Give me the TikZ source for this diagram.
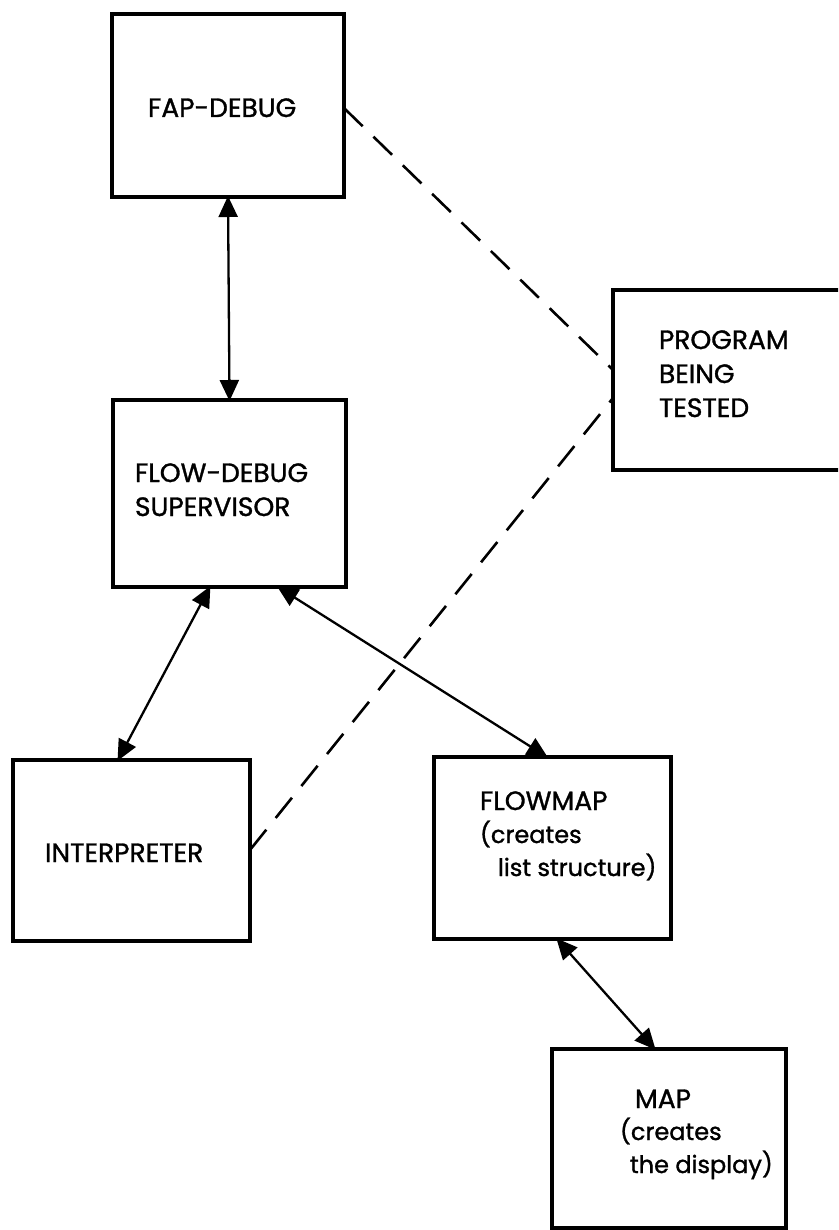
\documentclass[tikz,border=0pt]{standalone}
\usepackage{fontspec}
\setmainfont{Poppins}
\newfontfamily\lblfont{Poppins}[FakeBold=1.2]
\usetikzlibrary{arrows.meta,calc}
\tikzset{
  box/.style={draw=black, line width=3.5pt, fill=white, inner sep=0pt, outer sep=0pt},
  lbl/.style={anchor=base west, inner sep=0pt, outer sep=0pt, font=\lblfont\fontsize{26.5}{33}\selectfont},
  lbls/.style={lbl, font=\lblfont\fontsize{24}{33}\selectfont},
  dbl/.style={line width=2.3pt, {Triangle[length=21pt,width=19pt]}-{Triangle[length=21pt,width=19pt]}, shorten <=-1pt, shorten >=-1pt},
  dsh/.style={line width=2.6pt, dash pattern=on 26pt off 15pt}
}
\begin{document}
\begin{tikzpicture}[x=1pt,y=-1pt]
\useasboundingbox (0,0) rectangle (838,1230);
\fill[white] (0,0) rectangle (838,1230);
\clip (0,0) rectangle (838,1230);

% boxes: centre at ((l+r)/2,(t+b)/2)
\node[box, minimum width=232pt, minimum height=183pt] (fap)  at (228,105.5) {};
\node[box, minimum width=237pt, minimum height=180pt] (prog) at (731.5,380) {};
\node[box, minimum width=233pt, minimum height=187pt] (sup)  at (229.5,493.5) {};
\node[box, minimum width=237pt, minimum height=181pt] (intp) at (131.5,850.5) {};
\node[box, minimum width=237pt, minimum height=182pt] (fmap) at (552.5,848) {};
\node[box, minimum width=234pt, minimum height=179pt] (map)  at (669,1138.5) {};

% texts
\node[lbl] (tfap) at (148,117) {FAP-DEBUG};
\node[lbl] (tprog1) at (659,349) {PROGRAM};
\node[lbl] (tprog2) at (659,383) {BEING};
\node[lbl] (tprog3) at (659,417) {TESTED};
\node[lbl] (tsup1) at (135,482) {FLOW-DEBUG};
\node[lbl] (tsup2) at (135,516) {SUPERVISOR};
\node[lbl] (tint) at (45,862) {INTERPRETER};
\node[lbl] (tfm1) at (480,810) {FLOWMAP};
\node[lbls] (tfm2) at (480,843) {(creates};
\node[lbls] (tfm3) at (498,876) {list structure)};
\node[lbl] (tmap1) at (635,1108) {MAP};
\node[lbls] (tmap2) at (620,1140) {(creates};
\node[lbls] (tmap3) at (630,1173) {the display)};

% solid double-headed connectors
\draw[dbl] (fap.south) -- (sup.north);
\draw[dbl] ($(sup.south west)!0.416!(sup.south east)$) -- ($(intp.north west)!0.443!(intp.north east)$);
\draw[dbl] ($(sup.south west)!0.708!(sup.south east)$) -- ($(fmap.north west)!0.477!(fmap.north east)$);
\draw[dbl] ($(fmap.south west)!0.519!(fmap.south east)$) -- ($(map.north west)!0.44!(map.north east)$);

% dashed connectors
\draw[dsh] ($(fap.north east)!0.514!(fap.south east)$) -- ($(prog.north west)!0.444!(prog.south west)$);
\draw[dsh] ($(intp.north east)!0.497!(intp.south east)$) -- ($(prog.north west)!0.6!(prog.south west)$);
\end{tikzpicture}
\end{document}
